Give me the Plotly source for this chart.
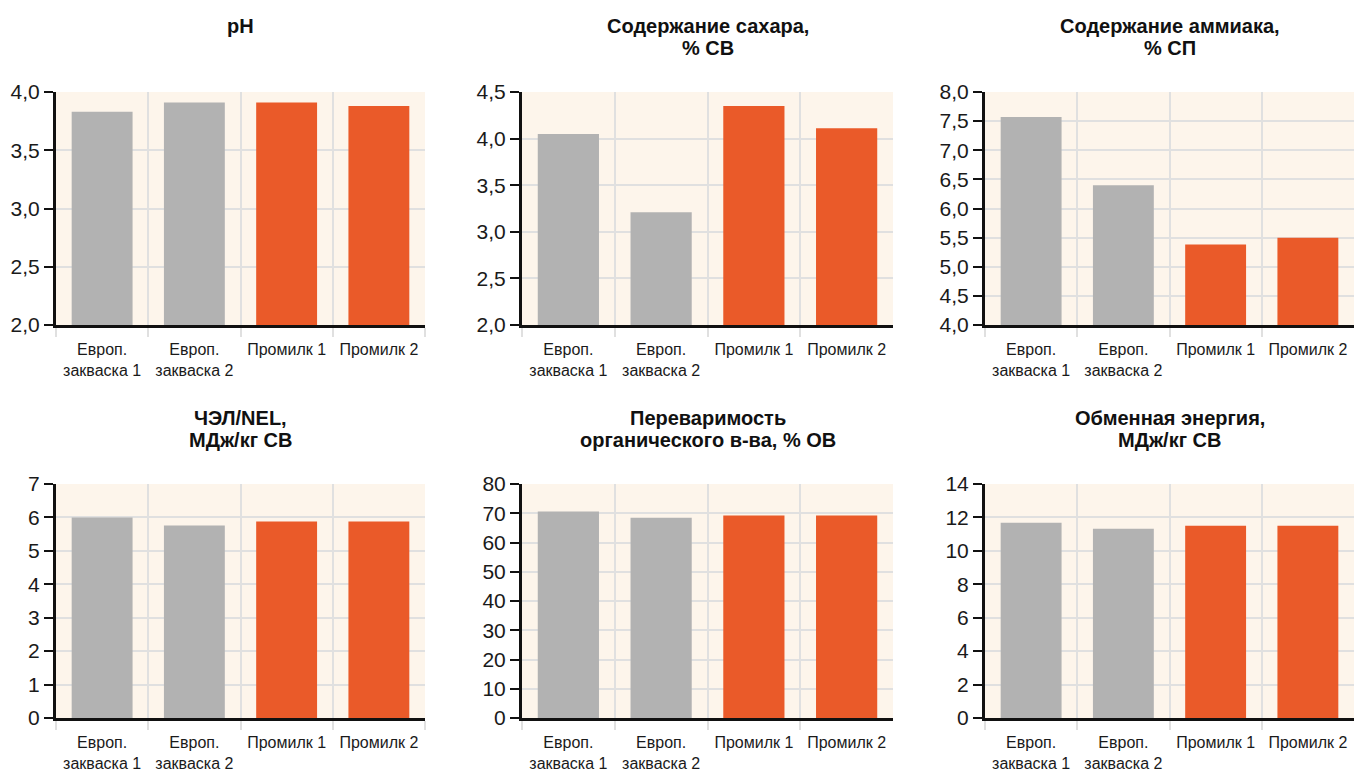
import plotly.graph_objects as go

W, H = 1355, 771

categories = ["Европ.<br>закваска 1", "Европ.<br>закваска 2", "Промилк 1", "Промилк 2"]
bar_colors = ["#b2b2b2", "#b2b2b2", "#ea5a29", "#ea5a29"]

titles = [
    ["pH"],
    ["Содержание сахара,", "% СВ"],
    ["Содержание аммиака,", "% СП"],
    ["ЧЭЛ/NEL,", "МДж/кг СВ"],
    ["Переваримость", "органического в-ва, % ОВ"],
    ["Обменная энергия,", "МДж/кг СВ"],
]

ph_values = [3.83, 3.91, 3.91, 3.88]
sugar_values = [4.05, 3.21, 4.35, 4.11]
ammonia_values = [7.57, 6.40, 5.38, 5.50]
nel_values = [6.00, 5.76, 5.88, 5.88]
digest_values = [70.6, 68.5, 69.2, 69.2]
me_values = [11.68, 11.32, 11.5, 11.5]

series = [ph_values, sugar_values, ammonia_values, nel_values, digest_values, me_values]

y_ranges = [(2, 4), (2, 4.5), (4, 8), (0, 7), (0, 80), (0, 14)]
y_dticks = [0.5, 0.5, 0.5, 1, 10, 2]
y_formats = [".1f", ".1f", ".1f", "d", "d", "d"]

# layout in pixels
x_px = [(56, 425), (522, 893), (985, 1354)]
y_px = [(92, 325), (484, 718)]

FONT = "Liberation Sans Narrow, Arial Narrow, Liberation Sans, Arial, sans-serif"

fig = go.Figure()
layout = dict(
    width=W, height=H,
    margin=dict(l=0, r=0, t=0, b=0),
    paper_bgcolor="white",
    plot_bgcolor="#fdf5eb",
    showlegend=False,
    separators=", ",
    bargap=0.34,
    font=dict(family=FONT, color="#1a1a1a", size=18),
)
annotations = []

for i in range(6):
    r, c = divmod(i, 3)
    n = "" if i == 0 else str(i + 1)
    xa = "x" + n
    ya = "y" + n
    fig.add_trace(go.Bar(
        x=categories, y=series[i], marker=dict(color=bar_colors, line=dict(width=0)),
        xaxis=xa, yaxis=ya, hoverinfo="x+y",
    ))
    x0, x1 = x_px[c]
    y0, y1 = y_px[r]
    layout["xaxis" + n] = dict(
        domain=[x0 / W, x1 / W], anchor=ya,
        showline=True, linecolor="#111", linewidth=3,
        showgrid=True, gridcolor="#e0e0e0", gridwidth=2,
        tickson="boundaries", ticks="outside", ticklen=9, tickcolor="#e0e0e0", tickwidth=2,
        tickangle=0, ticklabelstandoff=8,
        tickfont=dict(size=16, family=FONT, color="#1a1a1a"),
        automargin=False, fixedrange=True,
    )
    layout["yaxis" + n] = dict(
        domain=[1 - y1 / H, 1 - y0 / H], anchor=xa,
        range=list(y_ranges[i]), dtick=y_dticks[i], tick0=0,
        tickformat=y_formats[i],
        showline=True, linecolor="#111", linewidth=3,
        showgrid=True, gridcolor="#e0e0e0", gridwidth=2,
        ticks="outside", ticklen=9, tickcolor="#111", tickwidth=2,
        tickfont=dict(size=21, family=FONT, color="#1a1a1a"),
        zeroline=False, automargin=False, fixedrange=True,
    )
    first_line_center = 26 if r == 0 else 418
    for k, line in enumerate(titles[i]):
        annotations.append(dict(
            text="<b>" + line + "</b>",
            x=(x0 + x1) / 2 / W, y=1 - (first_line_center + 22 * k) / H,
            xref="paper", yref="paper", xanchor="center", yanchor="middle",
            showarrow=False, align="center",
            font=dict(size=20, family=FONT, color="#111"),
        ))

layout["annotations"] = annotations
fig.update_layout(**layout)
fig.write_html("out.html")
